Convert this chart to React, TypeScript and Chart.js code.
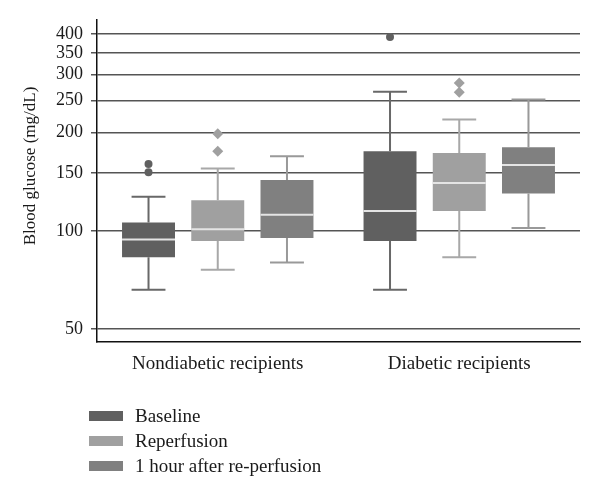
import React, { useEffect, useRef } from "react";
import { Chart, registerables } from "chart.js";

Chart.register(...registerables);

const categories = ["Nondiabetic recipients", "Diabetic recipients"];
const seriesNames = ["Baseline", "Reperfusion", "1 hour after re-perfusion"];

// [min, q1, median, q3, max] per category
const baselineStats = [
  [66, 83, 94, 106, 127],
  [66, 93, 115, 175, 266],
];
const reperfusionStats = [
  [76, 93, 101, 124, 155],
  [83, 115, 140, 173, 219],
];
const oneHourStats = [
  [80, 95, 112, 143, 169],
  [102, 130, 159, 180, 252],
];
const baselineOutliers = [[160, 151], [391]];
const reperfusionOutliers = [[198, 175], [283, 265]];
const oneHourOutliers: number[][] = [[], []];

const yTicks = [50, 100, 150, 200, 250, 300, 350, 400];

const boxColors = ["#606060", "#a0a0a0", "#808080"];
const whiskerColors = ["#686868", "#a8a8a8", "#999999"];
const outlierShapes = ["circle", "diamond", "none"];

const FONT = "'Liberation Serif', 'Times New Roman', serif";

export default function App() {
  const ref = useRef<HTMLCanvasElement | null>(null);

  useEffect(() => {
    document.body.style.margin = "0";
    const canvas = ref.current;
    if (!canvas) return;

    const allStats = [baselineStats, reperfusionStats, oneHourStats];
    const allOutliers = [baselineOutliers, reperfusionOutliers, oneHourOutliers];

    const boxPlugin = {
      id: "boxExtras",
      afterDatasetsDraw(chart: any) {
        const ctx = chart.ctx;
        const y = chart.scales.y;
        ctx.save();
        allStats.forEach((stats, di) => {
          const meta = chart.getDatasetMeta(di);
          meta.data.forEach((bar: any, ci: number) => {
            const [mn, q1, med, q3, mx] = stats[ci];
            const x = bar.x;
            const w = bar.width;
            const capHalf = w * 0.32;
            const yMin = y.getPixelForValue(mn);
            const yQ1 = y.getPixelForValue(q1);
            const yQ3 = y.getPixelForValue(q3);
            const yMax = y.getPixelForValue(mx);
            const yMed = y.getPixelForValue(med);
            ctx.strokeStyle = whiskerColors[di];
            ctx.lineWidth = 2;
            ctx.beginPath();
            ctx.moveTo(x, yQ3);
            ctx.lineTo(x, yMax);
            ctx.moveTo(x - capHalf, yMax);
            ctx.lineTo(x + capHalf, yMax);
            ctx.moveTo(x, yQ1);
            ctx.lineTo(x, yMin);
            ctx.moveTo(x - capHalf, yMin);
            ctx.lineTo(x + capHalf, yMin);
            ctx.stroke();
            ctx.strokeStyle = "#e4e4e4";
            ctx.lineWidth = 2;
            ctx.beginPath();
            ctx.moveTo(x - w / 2, yMed);
            ctx.lineTo(x + w / 2, yMed);
            ctx.stroke();
            ctx.fillStyle = boxColors[di];
            allOutliers[di][ci].forEach((v) => {
              const py = y.getPixelForValue(v);
              if (outlierShapes[di] === "circle") {
                ctx.beginPath();
                ctx.arc(x, py, 4, 0, Math.PI * 2);
                ctx.fill();
              } else if (outlierShapes[di] === "diamond") {
                ctx.beginPath();
                ctx.moveTo(x, py - 5.5);
                ctx.lineTo(x + 5.5, py);
                ctx.lineTo(x, py + 5.5);
                ctx.lineTo(x - 5.5, py);
                ctx.closePath();
                ctx.fill();
              }
            });
          });
        });
        ctx.restore();
      },
      afterDraw(chart: any) {
        const ctx = chart.ctx;
        ctx.save();
        // y axis title
        ctx.fillStyle = "#1a1a1a";
        ctx.font = `17px ${FONT}`;
        ctx.textAlign = "center";
        ctx.textBaseline = "middle";
        ctx.translate(31, 166);
        ctx.rotate(-Math.PI / 2);
        ctx.fillText("Blood glucose (mg/dL)", 0, 0);
        ctx.restore();
        // legend
        ctx.save();
        ctx.font = `19px ${FONT}`;
        ctx.textBaseline = "middle";
        ctx.textAlign = "left";
        seriesNames.forEach((name, i) => {
          const cy = 416 + i * 25;
          ctx.fillStyle = boxColors[i];
          ctx.fillRect(89, cy - 5, 34, 10);
          ctx.fillStyle = "#1a1a1a";
          ctx.fillText(name, 135, cy + 1);
        });
        ctx.restore();
      },
    };

    const chart = new Chart(canvas, {
      type: "bar",
      data: {
        labels: categories,
        datasets: allStats.map((stats, i) => ({
          label: seriesNames[i],
          data: stats.map((s) => [s[1], s[3]] as [number, number]),
          backgroundColor: boxColors[i],
          borderWidth: 0,
          categoryPercentage: 0.86,
          barPercentage: 0.765,
        })),
      },
      options: {
        responsive: false,
        animation: false,
        devicePixelRatio: 1,
        layout: { padding: { left: 0, top: 20, right: 20, bottom: 0 } },
        plugins: {
          legend: { display: false },
          tooltip: { enabled: false },
        },
        scales: {
          x: {
            type: "category",
            grid: { display: false },
            border: { display: true, color: "#111111", width: 1.5 },
            ticks: {
              color: "#1a1a1a",
              font: { family: FONT, size: 19 },
              padding: 3,
            },
            afterFit: (s: any) => {
              s.height = 156;
            },
          },
          y: {
            type: "logarithmic",
            min: 45.7,
            max: 441,
            afterBuildTicks: (s: any) => {
              s.ticks = yTicks.map((v) => ({ value: v }));
            },
            afterFit: (s: any) => {
              s.width = 97;
            },
            ticks: {
              color: "#1a1a1a",
              font: { family: FONT, size: 18 },
              padding: 8,
              autoSkip: false,
              callback: (v: any) => String(v),
            },
            grid: {
              color: "#555555",
              lineWidth: 1.5,
              tickLength: 6,
              drawTicks: true,
            },
            border: { display: true, color: "#111111", width: 1.5 },
          },
        },
      },
      plugins: [boxPlugin],
    });

    return () => chart.destroy();
  }, []);

  return (
    <div style={{ width: 600, height: 498 }}>
      <canvas ref={ref} width={600} height={498} />
    </div>
  );
}
